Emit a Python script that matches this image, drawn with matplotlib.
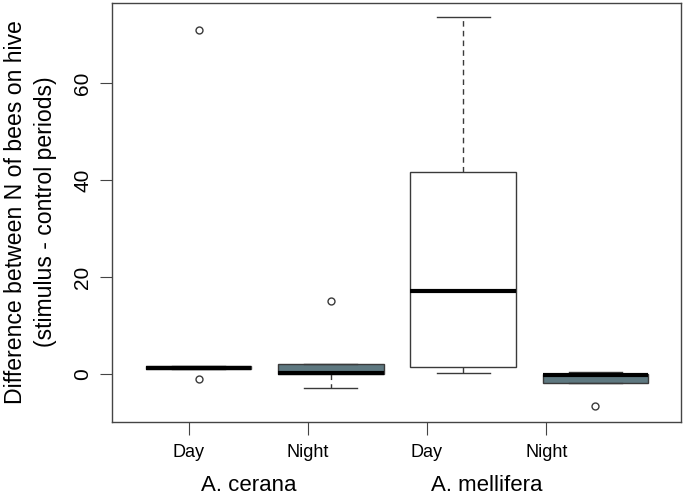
import matplotlib

matplotlib.use("Agg")
import matplotlib.pyplot as plt

plt.rcParams["font.family"] = ["Liberation Sans", "DejaVu Sans"]

# box statistics (A. cerana / A. mellifera, Day / Night)
groups = ["A. cerana", "A. mellifera"]
periods = ["Day", "Night", "Day", "Night"]
q1 = [1.0, 0.0, 1.4, -1.9]
med = [1.3, 0.3, 17.1, -0.3]
q3 = [1.6, 2.1, 41.6, 0.0]
whislo = [1.0, -2.9, 0.2, -1.9]
whishi = [1.6, 2.1, 73.6, 0.35]
fliers = [[71.0, -1.0], [15.0], [], [-6.7]]
fills = ["white", "#5e7880", "white", "#5e7880"]

box_pos = [1, 2, 3, 4]
label_pos = [0.926, 1.826, 2.725, 3.629]

stats = [
    dict(q1=a, med=m, q3=b, whislo=lo, whishi=hi, fliers=f)
    for a, m, b, lo, hi, f in zip(q1, med, q3, whislo, whishi, fliers)
]

fig = plt.figure(figsize=(6.85, 4.97), dpi=100)
ax = fig.add_axes([111.7 / 685, 1 - 422 / 497, (680.7 - 111.7) / 685, (422 - 3) / 497])

parts = ax.bxp(
    stats,
    positions=box_pos,
    widths=0.8,
    patch_artist=True,
    boxprops=dict(edgecolor="#3a3a3a", linewidth=1.0),
    medianprops=dict(color="black", linewidth=3.0, solid_capstyle="butt"),
    whiskerprops=dict(color="#3a3a3a", linewidth=1.0, linestyle=(0, (4, 3))),
    capprops=dict(color="#3a3a3a", linewidth=1.0),
    capwidths=0.4,
    flierprops=dict(marker="o", markersize=5, markerfacecolor="none",
                    markeredgecolor="#3a3a3a", markeredgewidth=1.0),
    manage_ticks=False,
)
for patch, c in zip(parts["boxes"], fills):
    patch.set_facecolor(c)

ax.set_xlim(0.344, 4.644)
ax.set_ylim(-9.9, 76.5)
ax.set_yticks([0, 20, 40, 60])
ax.tick_params(axis="y", labelrotation=90, labelsize=15, length=9, pad=5, color="#444444")
for t in ax.get_yticklabels():
    t.set_va("center")
ax.set_xticks(label_pos)
ax.set_xticklabels(periods)
ax.tick_params(axis="x", labelsize=13, length=9, pad=7, color="#444444")
for s in ax.spines.values():
    s.set_color("#444444")
    s.set_linewidth(1.0)

ax.text(-0.1427, 0.502,
        "Difference between N of bees on hive\n(stimulus - control periods)",
        transform=ax.transAxes, rotation=90, rotation_mode="anchor",
        ha="center", va="center", fontsize=16.6, linespacing=1.4)

for i, g in enumerate(groups):
    xc = (label_pos[2 * i] + label_pos[2 * i + 1]) / 2
    ax.text(xc, -0.152, g, transform=ax.get_xaxis_transform(),
            ha="center", va="center", fontsize=16)

fig.savefig("out.png", dpi=100)
